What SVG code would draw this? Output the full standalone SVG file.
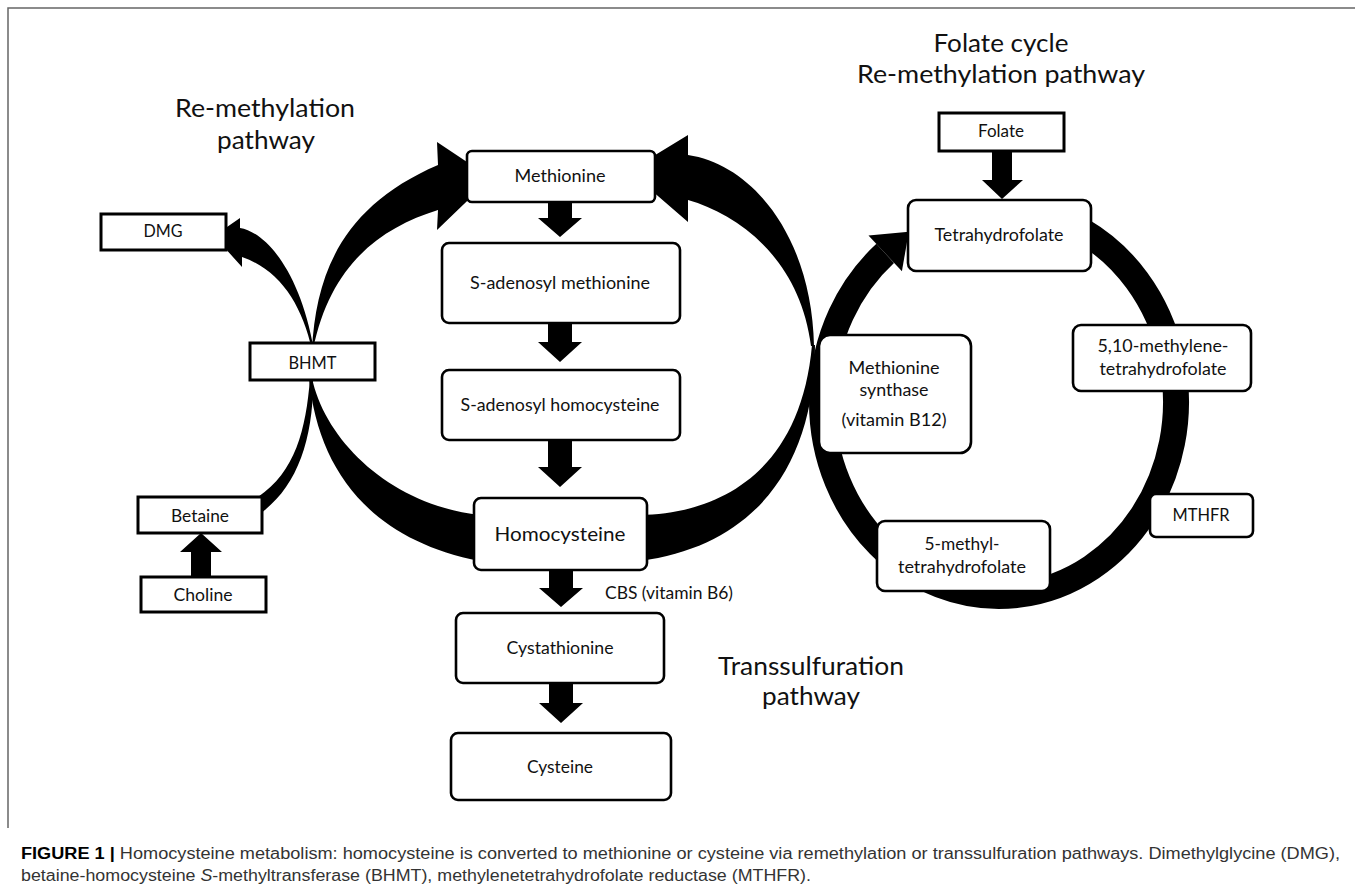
<svg xmlns="http://www.w3.org/2000/svg" width="1355" height="893" viewBox="0 0 1355 893">
<style>
.bx{fill:#fff;stroke:#000;stroke-width:3}
.rb{fill:#fff;stroke:#000;stroke-width:2.6}
.t{font-family:Lato,"Open Sans","Liberation Sans",sans-serif;font-size:17px;fill:#111;text-anchor:middle}
.ti{font-family:Lato,"Open Sans","Liberation Sans",sans-serif;font-size:25px;fill:#111;text-anchor:middle}
.cap{font-family:"Liberation Sans",Arial,sans-serif;font-size:16px;fill:#333}
.blk{fill:#000;stroke:none}
</style>
<rect x="0" y="0" width="1355" height="893" fill="#fff"/>
<path d="M8,828 V8 H1355" fill="none" stroke="#666" stroke-width="1.5"/>

<g id="titles">
<text class="ti" x="265" y="117" textLength="180" lengthAdjust="spacingAndGlyphs">Re-methylation</text>
<text class="ti" x="266" y="149" textLength="98" lengthAdjust="spacingAndGlyphs">pathway</text>
<text class="ti" x="1001" y="52" textLength="135" lengthAdjust="spacingAndGlyphs">Folate cycle</text>
<text class="ti" x="1001" y="83" textLength="288" lengthAdjust="spacingAndGlyphs">Re-methylation pathway</text>
<text class="ti" x="811" y="675" textLength="186" lengthAdjust="spacingAndGlyphs">Transsulfuration</text>
<text class="ti" x="811" y="705" textLength="98" lengthAdjust="spacingAndGlyphs">pathway</text>
</g>

<g id="connectors">
<!-- big central cycle -->
<path class="blk" d="M312,350 C316,270 345,205 438,165 L437,142 L491,178 L437,230 L438,210 C380,228 330,265 313,350 Z"/>
<path class="blk" d="M312,350 C302,305 280,270 242,257 L242,267 L214,236 L240,218 L240,228 C265,232 300,270 314,350 Z"/>
<path class="blk" d="M310,378 C306,430 295,472 258,497 L258,515 C296,490 314,440 313,378 Z"/>
<path class="blk" d="M312,378 C325,440 390,505 480,515 L480,561 C370,540 318,470 309,378 Z"/>
<path class="blk" d="M640,515 C710,514 800,480 812,345 L815,345 C815,460 760,545 640,561 Z"/>
<path class="blk" d="M814,346 C812,240 755,165 688,155 L688,135 L629,171 L688,222 L688,200 C740,215 800,260 811,346 Z"/>
<!-- folate cycle ring -->
<path d="M1082.1,230.7 A177,194 0 1 1 885.2,253.4" fill="none" stroke="#000" stroke-width="26"/>
<path class="blk" d="M868.5,235.5 L908.8,231.7 L901.9,271.3 Z"/>
<!-- straight block arrows -->
<path class="blk" d="M548,200 H572 V218 H582 L560,237 L538,218 H548 Z"/>
<path class="blk" d="M548,322 H572 V342 H582 L560,362 L538,342 H548 Z"/>
<path class="blk" d="M548,439 H572 V467 H582 L560,487 L538,467 H548 Z"/>
<path class="blk" d="M549,569 H573 V588 H583 L561,607 L539,588 H549 Z"/>
<path class="blk" d="M549,682 H573 V703 H583 L561,723 L539,703 H549 Z"/>
<path class="blk" d="M191,578 H211 V552 H222 L201,533 L180,552 H191 Z"/>
<path class="blk" d="M992,150 H1012 V180 H1023 L1002,199 L982,180 H992 Z"/>
</g>

<g id="n-dmg"><rect class="bx" x="101" y="214" width="125" height="36"/>
<text class="t" x="163" y="237" textLength="39" lengthAdjust="spacingAndGlyphs">DMG</text></g>
<g id="n-bhmt"><rect class="bx" x="250" y="343" width="125" height="37"/>
<text class="t" x="312.5" y="369" textLength="48" lengthAdjust="spacingAndGlyphs">BHMT</text></g>
<g id="n-betaine"><rect class="bx" x="138" y="497" width="124" height="36"/>
<text class="t" x="200" y="521.5" textLength="58" lengthAdjust="spacingAndGlyphs">Betaine</text></g>
<g id="n-choline"><rect class="bx" x="141" y="577" width="125" height="35"/>
<text class="t" x="203" y="600.5" textLength="59" lengthAdjust="spacingAndGlyphs">Choline</text></g>

<g id="n-methionine"><rect class="rb" x="467" y="151" width="188" height="51" rx="5"/>
<text class="t" x="560" y="182" textLength="91" lengthAdjust="spacingAndGlyphs">Methionine</text></g>
<g id="n-sam"><rect class="rb" x="442" y="243" width="238" height="80" rx="7"/>
<text class="t" x="560" y="289" textLength="180" lengthAdjust="spacingAndGlyphs">S-adenosyl methionine</text></g>
<g id="n-sah"><rect class="rb" x="442" y="370" width="238" height="70" rx="7"/>
<text class="t" x="560" y="411" textLength="199" lengthAdjust="spacingAndGlyphs">S-adenosyl homocysteine</text></g>
<g id="n-homocysteine"><rect class="rb" x="474" y="498" width="173" height="72" rx="7"/>
<text class="t" x="560" y="541" font-size="20" textLength="131" lengthAdjust="spacingAndGlyphs" style="font-size:20px">Homocysteine</text></g>
<g id="l-cbs"><text class="t" x="669" y="599" textLength="128" lengthAdjust="spacingAndGlyphs">CBS (vitamin B6)</text></g>
<g id="n-cystathionine"><rect class="rb" x="456" y="613" width="208" height="70" rx="7"/>
<text class="t" x="560" y="654" textLength="107" lengthAdjust="spacingAndGlyphs">Cystathionine</text></g>
<g id="n-cysteine"><rect class="rb" x="451" y="733" width="220" height="67" rx="7"/>
<text class="t" x="560" y="773" textLength="66" lengthAdjust="spacingAndGlyphs">Cysteine</text></g>

<g id="n-folate"><rect class="bx" x="939" y="113" width="125" height="38"/>
<text class="t" x="1001" y="137" textLength="46" lengthAdjust="spacingAndGlyphs">Folate</text></g>
<g id="n-thf"><rect class="rb" x="908" y="200" width="183" height="71" rx="8"/>
<text class="t" x="999" y="241" textLength="129" lengthAdjust="spacingAndGlyphs">Tetrahydrofolate</text></g>
<g id="n-ms"><rect class="rb" x="819" y="335" width="152" height="118" rx="11"/>
<text class="t" x="894" y="374" textLength="91" lengthAdjust="spacingAndGlyphs">Methionine</text>
<text class="t" x="894" y="396" textLength="69" lengthAdjust="spacingAndGlyphs">synthase</text>
<text class="t" x="894" y="426" textLength="105" lengthAdjust="spacingAndGlyphs">(vitamin B12)</text></g>
<g id="n-methylene"><rect class="rb" x="1073" y="325" width="178" height="66" rx="8"/>
<text class="t" x="1163" y="352" textLength="131" lengthAdjust="spacingAndGlyphs">5,10-methylene-</text>
<text class="t" x="1163" y="375" textLength="127" lengthAdjust="spacingAndGlyphs">tetrahydrofolate</text></g>
<g id="n-mthfr"><rect class="rb" x="1150" y="494" width="103" height="43" rx="6"/>
<text class="t" x="1201" y="521" textLength="57" lengthAdjust="spacingAndGlyphs">MTHFR</text></g>
<g id="n-5methyl"><rect class="rb" x="877" y="521" width="173" height="70" rx="8"/>
<text class="t" x="962" y="550" textLength="75" lengthAdjust="spacingAndGlyphs">5-methyl-</text>
<text class="t" x="962" y="573" textLength="128" lengthAdjust="spacingAndGlyphs">tetrahydrofolate</text></g>

<g id="caption">
<text class="cap" x="21" y="859" textLength="1319" lengthAdjust="spacingAndGlyphs"><tspan font-weight="bold" fill="#000">FIGURE 1 |</tspan> Homocysteine metabolism: homocysteine is converted to methionine or cysteine via remethylation or transsulfuration pathways. Dimethylglycine (DMG),</text>
<text class="cap" x="21" y="881" textLength="790" lengthAdjust="spacingAndGlyphs">betaine-homocysteine <tspan font-style="italic">S</tspan>-methyltransferase (BHMT), methylenetetrahydrofolate reductase (MTHFR).</text>
</g>
</svg>
